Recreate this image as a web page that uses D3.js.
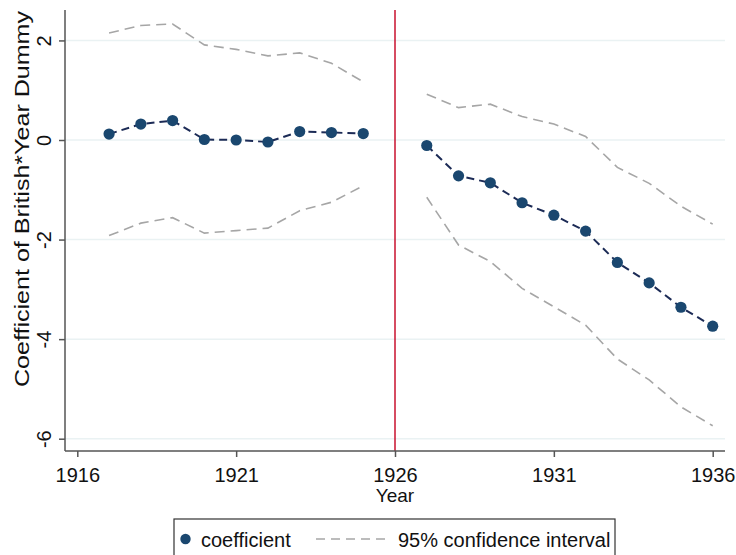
<!DOCTYPE html>
<html><head><meta charset="utf-8">
<script src="https://cdn.jsdelivr.net/npm/d3@7"></script>
<style>body{margin:0;background:#fff}svg{display:block}</style>
</head><body>
<svg id="c" width="736" height="555"></svg>
<script>
const years = [1917,1918,1919,1920,1921,1922,1923,1924,1925,1926,1927,1928,1929,1930,1931,1932,1933,1934,1935,1936];
const coef  = [0.12,0.32,0.39,0.01,0.00,-0.04,0.17,0.15,0.13,null,-0.11,-0.72,-0.86,-1.26,-1.51,-1.83,-2.46,-2.87,-3.36,-3.74];
const ciUpper = [2.15,2.30,2.33,1.91,1.82,1.69,1.75,1.54,1.17,null,0.92,0.65,0.72,0.47,0.32,0.07,-0.55,-0.87,-1.33,-1.69];
const ciLower = [-1.92,-1.67,-1.56,-1.87,-1.82,-1.77,-1.42,-1.25,-0.92,null,-1.15,-2.11,-2.44,-2.98,-3.35,-3.72,-4.40,-4.82,-5.36,-5.74];
const xTicks = [1916,1921,1926,1931,1936];
const yTicks = [2,0,-2,-4,-6];
const breakYear = 1926;
const yTitle = "Coefficient of British*Year Dummy";
const xTitle = "Year";
const legendLabels = ["coefficient","95% confidence interval"];

(function(){
const svg = d3.select("#c");
const font = "Arial, 'Liberation Sans', sans-serif";
const pL = 65, pR = 725, pT = 10, pB = 451;
const x = d3.scaleLinear().domain([1916,1936]).range([77.3,712.7]);
const y = d3.scaleLinear().domain([0,-6]).range([140,438.7]);

// gridlines
svg.append("g").selectAll("line").data(yTicks).join("line")
  .attr("x1",pL).attr("x2",pR)
  .attr("y1",d=>y(d)).attr("y2",d=>y(d))
  .attr("stroke","#eaf2f3").attr("stroke-width",1.5);

// red vertical line
svg.append("line").attr("x1",x(breakYear)).attr("x2",x(breakYear))
  .attr("y1",pT).attr("y2",pB)
  .attr("stroke","#c8102e").attr("stroke-width",1.5);

// axes
const xAxis = d3.axisBottom(x).tickValues(xTicks).tickFormat(d3.format("d")).tickSize(6).tickSizeOuter(0);
const gx = svg.append("g").attr("transform",`translate(0,${pB})`).call(xAxis);
gx.select(".domain").attr("d",`M${pL},0H${pR}`).attr("stroke","#555").attr("stroke-width",1.5);
gx.selectAll(".tick line").attr("stroke","#555").attr("stroke-width",1.5);
gx.selectAll(".tick text").attr("font-family",font).attr("font-size",20).attr("fill","#111").attr("dy",null).attr("y",0).attr("transform","translate(0,31)");

const yAxis = d3.axisLeft(y).tickValues(yTicks).tickFormat(d=>String(d)).tickSize(6).tickSizeOuter(0);
const gy = svg.append("g").attr("transform",`translate(${pL},0)`).call(yAxis);
gy.select(".domain").attr("d",`M0,${pT}V${pB}`).attr("stroke","#555").attr("stroke-width",1.5);
gy.selectAll(".tick line").attr("stroke","#555").attr("stroke-width",1.5);
gy.selectAll(".tick text").attr("font-family",font).attr("font-size",20).attr("fill","#111")
  .attr("x",null).attr("dy",null).attr("text-anchor","middle")
  .attr("transform","translate(-14,0) rotate(-90)");

// titles
svg.append("text").attr("transform","translate(29,199) rotate(-90)")
  .attr("text-anchor","middle").attr("font-family",font).attr("font-size",21)
  .attr("textLength",376).attr("lengthAdjust","spacingAndGlyphs")
  .attr("fill","#111").text(yTitle);
svg.append("text").attr("x",x(breakYear)).attr("y",502)
  .attr("text-anchor","middle").attr("font-family",font).attr("font-size",19).attr("fill","#111").text(xTitle);

// lines
const mk = arr => d3.line().defined((d,i)=>arr[i]!==null).x(d=>x(d)).y((d,i)=>y(arr[i]))(years);
[ciUpper,ciLower].forEach(arr=>{
  svg.append("path").attr("d",mk(arr)).attr("fill","none")
    .attr("stroke","#a6a6a6").attr("stroke-width",1.6).attr("stroke-dasharray","10,6");
});
svg.append("path").attr("d",mk(coef)).attr("fill","none")
  .attr("stroke","#1c2b56").attr("stroke-width",2).attr("stroke-dasharray","8,5");
svg.append("g").selectAll("circle").data(years.filter((d,i)=>coef[i]!==null)).join("circle")
  .attr("cx",d=>x(d)).attr("cy",d=>y(coef[years.indexOf(d)])).attr("r",5.6)
  .attr("fill","#1a476f");

// legend
const lg = svg.append("g");
lg.append("rect").attr("x",174).attr("y",519).attr("width",441).attr("height",60)
  .attr("fill","#fff").attr("stroke","#333").attr("stroke-width",1.2);
lg.append("circle").attr("cx",185.5).attr("cy",539).attr("r",5.2).attr("fill","#1a476f");
lg.append("text").attr("x",201).attr("y",547).attr("font-family",font).attr("font-size",20).attr("fill","#111").text(legendLabels[0]);
lg.append("line").attr("x1",316).attr("x2",389).attr("y1",539).attr("y2",539)
  .attr("stroke","#a6a6a6").attr("stroke-width",1.6).attr("stroke-dasharray","9,6");
lg.append("text").attr("x",398).attr("y",547).attr("font-family",font).attr("font-size",20).attr("fill","#111").text(legendLabels[1]);
})();
</script>
</body></html>
